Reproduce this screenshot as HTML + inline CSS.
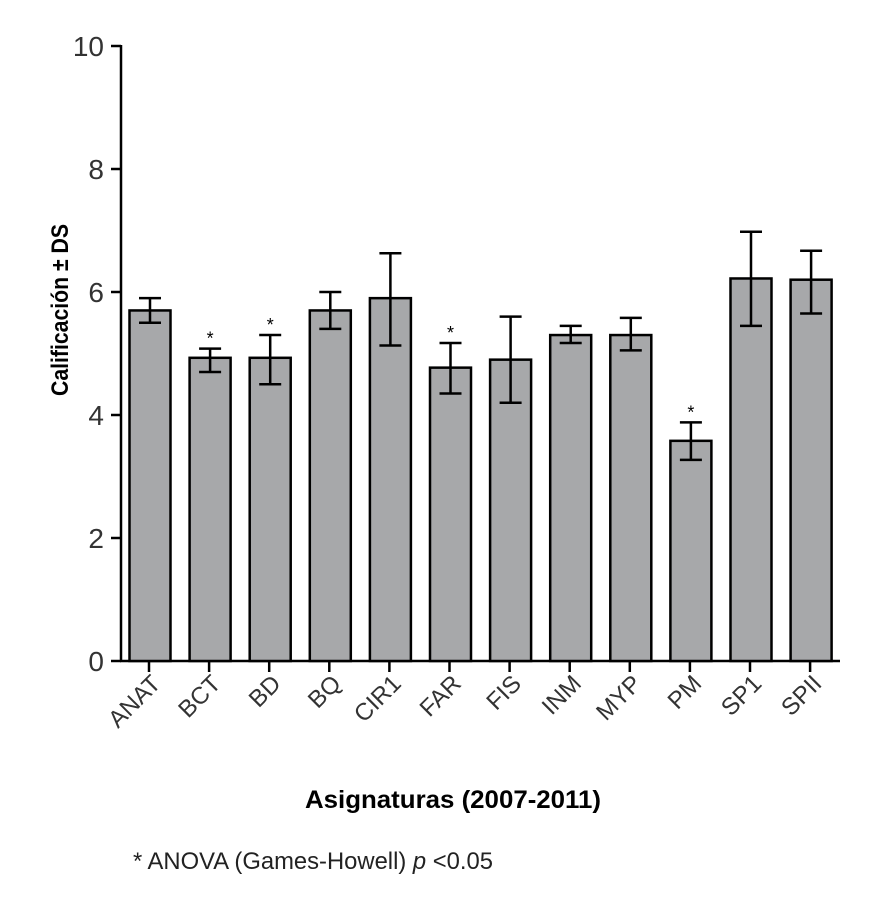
<!DOCTYPE html>
<html><head><meta charset="utf-8"><style>
body{margin:0;background:#fff}
svg text{font-family:"Liberation Sans",sans-serif}
</style></head><body>
<svg width="891" height="900" viewBox="0 0 891 900">
<g id="plot"></g>
<text x="0" y="0" transform="translate(68,310) rotate(-90)" text-anchor="middle" font-size="24" font-weight="bold" textLength="172" lengthAdjust="spacingAndGlyphs">Calificación ± DS</text>
<text x="453" y="808" text-anchor="middle" font-size="25" font-weight="bold" textLength="296" lengthAdjust="spacingAndGlyphs">Asignaturas (2007-2011)</text>
<text x="133" y="869" font-size="24" fill="#222" textLength="360" lengthAdjust="spacingAndGlyphs">* ANOVA (Games-Howell) <tspan font-style="italic">p</tspan> &lt;0.05</text>
</svg>
<script>
const categories=["ANAT","BCT","BD","BQ","CIR1","FAR","FIS","INM","MYP","PM","SP1","SPII"];
const means=[5.7,4.93,4.93,5.7,5.9,4.77,4.9,5.3,5.3,3.58,6.22,6.2];
const errLow=[5.5,4.7,4.5,5.4,5.13,4.35,4.2,5.17,5.05,3.27,5.45,5.65];
const errHigh=[5.9,5.08,5.3,6.0,6.63,5.17,5.6,5.45,5.58,3.88,6.98,6.67];
const significant=[0,1,1,0,0,1,0,0,0,1,0,0];
const yTicks=[0,2,4,6,8,10];
const NS="http://www.w3.org/2000/svg";
const g=document.getElementById('plot');
const y0=661,yTop=46,yMax=10;
const y=v=>y0-(y0-yTop)*v/yMax;
const x=i=>150+i*60.1;
function mk(t,a){const e=document.createElementNS(NS,t);for(const k in a)e.setAttribute(k,a[k]);g.appendChild(e);return e;}
let e=mk('line',{x1:121,y1:y(10)-1,x2:121,y2:y0+1,stroke:'#000','stroke-width':2.5});


e=mk('line',{x1:120,y1:y0,x2:840,y2:y0,stroke:'#000','stroke-width':2.5});


yTicks.forEach(t=>{
  e=mk('line',{x1:111,y1:y(t),x2:121,y2:y(t),stroke:'#000','stroke-width':2.5});
  
  
  e=mk('text',{x:104,y:y(t)+10,'text-anchor':'end','font-size':28,fill:'#333'});
  e.textContent=t;
  
  
});
categories.forEach((c,i)=>{
  const cx=x(i);
  e=mk('rect',{x:cx-20.5,y:y(means[i]),width:41,height:y0-y(means[i]),fill:'#a7a8aa',stroke:'#000','stroke-width':2.5});
  
  
  e=mk('path',{d:`M${cx},${y(errLow[i])}V${y(errHigh[i])}M${cx-11},${y(errLow[i])}H${cx+11}M${cx-11},${y(errHigh[i])}H${cx+11}`,stroke:'#000','stroke-width':2.5,fill:'none'});
  
  
  if(significant[i]){
    e=mk('text',{x:cx,y:y(errHigh[i])-4,'text-anchor':'middle','font-size':18});
    e.textContent='*';
    
    
  }
  e=mk('line',{x1:cx-1,y1:y0,x2:cx-1,y2:y0+11,stroke:'#000','stroke-width':2.5});
  
  
  e=mk('text',{x:0,y:0,'text-anchor':'end','font-size':24,fill:'#333',transform:`translate(${cx+12},${y0+24}) rotate(-45)`});
  e.textContent=c;
  
  
});
</script>
</body></html>
